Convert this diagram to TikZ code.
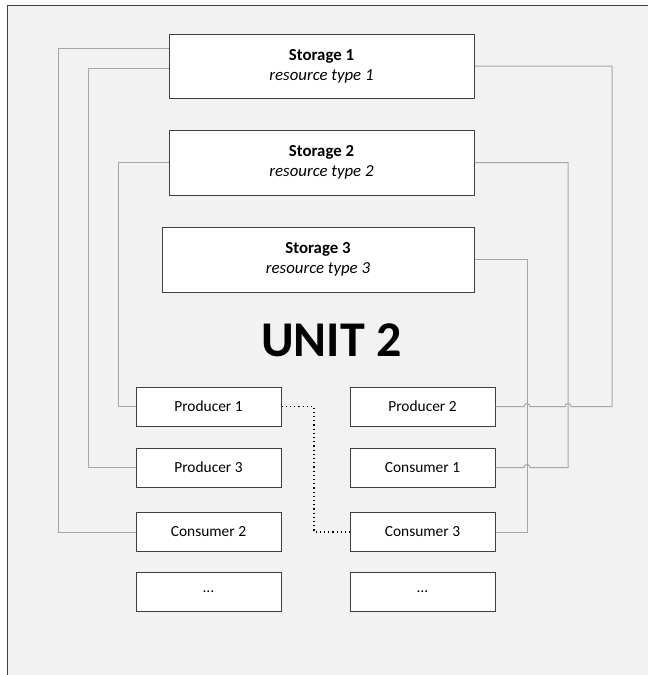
\documentclass[tikz,border=0pt]{standalone}
\usepackage{fontspec}
\setmainfont{Carlito}
\definecolor{bgc}{HTML}{F2F2F2}
\definecolor{linec}{HTML}{A6A6A6}
\definecolor{boxc}{HTML}{404040}
\begin{document}
\begin{tikzpicture}[x=1pt,y=-1pt,
  box/.style={draw=boxc, line width=1pt, fill=white, inner sep=0pt, align=center},
  stor/.style={box, minimum width=305pt, minimum height=65pt, font=\fontsize{16.8}{20}\selectfont},
  small/.style={box, minimum width=145pt, minimum height=39pt, font=\fontsize{15.4}{18}\selectfont},
  conn/.style={draw=linec, line width=1pt},
  dotline/.style={draw=black, line width=1.2pt, dash pattern=on 1.2pt off 3pt}]
\useasboundingbox (0,0) rectangle (648,675);
\fill[bgc] (7,5) rectangle (648,675);
\draw[boxc, line width=1pt] (7,675) -- (7,5) -- (648,5);

\coordinate (xa) at (58,0);
\coordinate (xb) at (88,0);
\coordinate (xc) at (118,0);
\coordinate (xd) at (527,0);
\coordinate (xe) at (568,0);
\coordinate (xf) at (612,0);
\coordinate (xg) at (314,0);

\node[stor, minimum height=64pt] (s1) at (321.5,66) {\textbf{Storage 1}\\\textit{resource type 1}};
\node[stor] (s2) at (321.5,162.5) {\textbf{Storage 2}\\\textit{resource type 2}};
\node[stor, minimum width=312pt] (s3) at (318,259.5) {\textbf{Storage 3}\\\textit{resource type 3}};

\node[anchor=base, inner sep=0pt, font=\fontsize{50}{60}\selectfont\bfseries] (unit) at (331.5,356) {UNIT 2};

\node[small] (p1) at (208.5,406.5) {Producer 1};
\node[small] (p3) at (208.5,467.5) {Producer 3};
\node[small] (c2) at (208.5,532) {Consumer 2};
\node[small] (d1) at (208.5,591.5) {…};
\node[small] (p2) at (422.5,406.5) {Producer 2};
\node[small] (c1) at (422.5,467.5) {Consumer 1};
\node[small] (c3) at (422.5,532) {Consumer 3};
\node[small] (d2) at (422.5,591.5) {…};

\draw[conn] ([yshift=18pt]s1.west) -| (xa |- c2.west) -- (c2.west);
\draw[conn] ([yshift=-2pt]s1.west) -| (xb |- p3.west) -- (p3.west);
\draw[conn] (s2.west) -| (xc |- p1.west) -- (p1.west);
\draw[conn] (s3.east) -| (xd |- c3.east) -- (c3.east);
\draw[conn] (s2.east) -| (xe |- c1.east) -- ([xshift=3pt]xd |- c1.east)
  arc[start angle=0, end angle=180, radius=3pt] -- (c1.east);
\draw[conn] (s1.east) -| (xf |- p2.east) -- ([xshift=3pt]xe |- p2.east)
  arc[start angle=0, end angle=180, radius=3pt] -- ([xshift=3pt]xd |- p2.east)
  arc[start angle=0, end angle=180, radius=3pt] -- (p2.east);
\draw[dotline] (p1.east) -| (xg |- c3.west) -- (c3.west);
\end{tikzpicture}
\end{document}
